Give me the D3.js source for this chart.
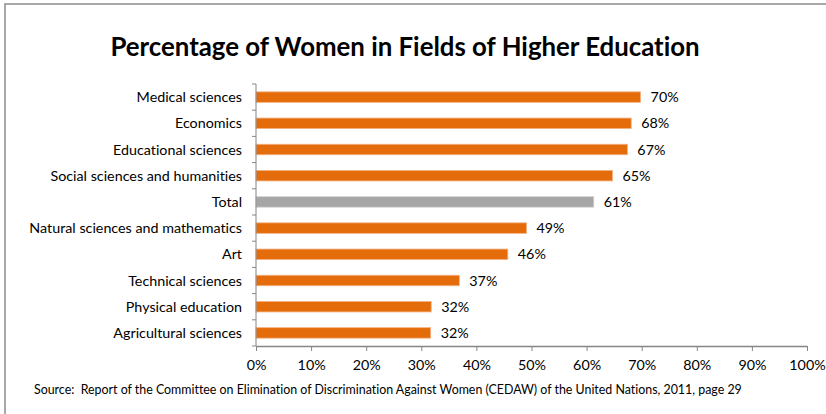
<!DOCTYPE html>
<html lang="en">
	<head>
		<meta charset="UTF-8" />
		<title>Percentage of Women in Fields of Higher Education</title>
		<script src="https://d3js.org/d3.v7.min.js"></script>
		<style>
			html,
			body {
				margin: 0;
				background: #fff;
			}
			svg {
				display: block;
				font-family: Lato, 'Open Sans', sans-serif;
				font-variant-ligatures: none;
			}
			.axis path,
			.axis line {
				stroke: #868686;
			}
			.axis text {
				fill: #000;
				font-size: 14.3px;
			}
		</style>
	</head>
	<body>
		<svg id="chart" width="826" height="414"></svg>
		<script>
			const categories = [
				'Medical sciences',
				'Economics',
				'Educational sciences',
				'Social sciences and humanities',
				'Total',
				'Natural sciences and mathematics',
				'Art',
				'Technical sciences',
				'Physical education',
				'Agricultural sciences',
			];
			const shares = [0.698, 0.681, 0.674, 0.647, 0.613, 0.491, 0.457, 0.369, 0.318, 0.317];
			const xTicks = [0, 0.1, 0.2, 0.3, 0.4, 0.5, 0.6, 0.7, 0.8, 0.9, 1];

			const title = 'Percentage of Women in Fields of Higher Education';
			const source =
				'Source:  Report of the Committee on Elimination of Discrimination Against Women (CEDAW) of the United Nations, 2011, page 29';

			const orange = '#e46c0a';
			const grey = '#a6a6a6';

			const svg = d3.select('#chart');
			const width = +svg.attr('width');
			const height = +svg.attr('height');

			const margin = { top: 84, right: 19, bottom: 68, left: 256 };

			// outer frame (only top and left edges visible)
			svg
				.append('path')
				.attr('d', `M5,${height} V4 H${width}`)
				.attr('fill', 'none')
				.attr('stroke', '#8c8c8c')
				.attr('stroke-width', 1.5);

			svg
				.append('text')
				.attr('x', 405)
				.attr('y', 56)
				.attr('text-anchor', 'middle')
				.attr('font-size', 25.8)
				.attr('font-weight', 'bold')
				.text(title);

			const x = d3
				.scaleLinear()
				.domain([0, 1])
				.range([margin.left, width - margin.right]);

			const y = d3
				.scaleBand()
				.domain(categories)
				.range([margin.top, height - margin.bottom])
				.paddingInner(0.6)
				.paddingOuter(0.3);

			const bottom = height - margin.bottom;

			svg
				.selectAll('rect.bar')
				.data(categories)
				.enter()
				.append('rect')
				.attr('class', 'bar')
				.attr('x', x(0))
				.attr('y', (d) => y(d))
				.attr('width', (d, i) => x(shares[i]) - x(0))
				.attr('height', y.bandwidth())
				.attr('fill', (d) => (d === 'Total' ? grey : orange))
				.attr('stroke', (d) => (d === 'Total' ? '#d0d0d0' : '#f4b183'))
				.attr('stroke-width', 0.8);

			svg
				.selectAll('text.value')
				.data(categories)
				.enter()
				.append('text')
				.attr('class', 'value')
				.attr('x', (d, i) => x(shares[i]) + 10)
				.attr('y', (d) => y(d) + y.bandwidth() / 2 + 5)
				.attr('font-size', 14.3)
				.text((d, i) => d3.format('.0%')(shares[i]));

			// category axis, ticks sit between the bands
			const yAxis = svg
				.append('g')
				.attr('class', 'axis')
				.attr('transform', `translate(${margin.left},0)`);
			yAxis
				.append('line')
				.attr('y1', margin.top)
				.attr('y2', bottom);
			const rowH = (bottom - margin.top) / categories.length;
			yAxis
				.selectAll('line.tick')
				.data(d3.range(categories.length + 1))
				.enter()
				.append('line')
				.attr('class', 'tick')
				.attr('x1', -4)
				.attr('x2', 0)
				.attr('y1', (i) => margin.top + i * rowH)
				.attr('y2', (i) => margin.top + i * rowH);
			yAxis
				.selectAll('text')
				.data(categories)
				.enter()
				.append('text')
				.attr('x', -14)
				.attr('y', (d) => y(d) + y.bandwidth() / 2 + 5)
				.attr('text-anchor', 'end')
				.text((d) => d);

			const xAxis = svg
				.append('g')
				.attr('class', 'axis')
				.attr('transform', `translate(0,${bottom})`)
				.call(
					d3
						.axisBottom(x)
						.tickValues(xTicks)
						.tickFormat(d3.format('.0%'))
						.tickSize(5)
						.tickSizeOuter(0)
						.tickPadding(9),
				);
			xAxis.select('.domain').attr('stroke-width', 1.5);
			xAxis.attr('font-family', null).attr('font-size', null);

			svg
				.append('text')
				.attr('x', 34)
				.attr('y', 394)
				.attr('font-size', 12.4)
				.style('white-space', 'pre')
				.text(source);
		</script>
	</body>
</html>
